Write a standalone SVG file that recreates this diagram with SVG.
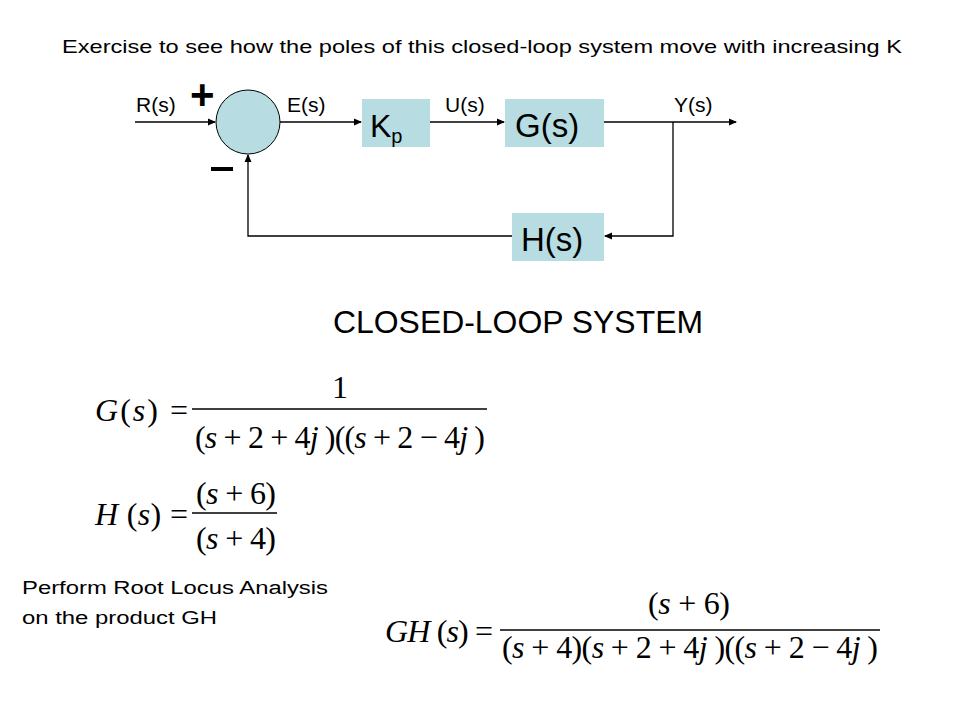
<svg xmlns="http://www.w3.org/2000/svg" width="960" height="720" viewBox="0 0 960 720">
<style>
.s{font-family:"Liberation Sans",Arial,sans-serif;fill:#000}
.m{font-family:"Liberation Serif","Times New Roman",serif;fill:#000;font-size:32px}
.i{font-style:italic}
.b{fill:#b7dde3}
.l{stroke:#000;stroke-width:1.3;fill:none}
</style>
<defs><marker id="a" markerWidth="8" markerHeight="8" refX="7" refY="4" orient="auto" markerUnits="userSpaceOnUse"><path d="M0,0.5 L8,4 L0,7.5z" fill="#000"/></marker></defs>
<rect width="960" height="720" fill="#fff"/>
<text class="s" x="62" y="53" font-size="19" textLength="840" lengthAdjust="spacingAndGlyphs">Exercise to see how the poles of this closed-loop system move with increasing K</text>
<g id="sum"><circle cx="248" cy="122" r="32" class="b" stroke="#000" stroke-width="1"/></g>
<g id="kp"><rect x="362" y="99" width="68" height="48" class="b"/><text class="s" x="370" y="137" font-size="32">K<tspan font-size="20" dy="6">p</tspan></text></g>
<g id="g"><rect x="505" y="99" width="99" height="48" class="b"/><text class="s" x="515" y="137" font-size="33">G(s)</text></g>
<g id="h"><rect x="512" y="213" width="92" height="48" class="b"/><text class="s" x="521" y="251" font-size="33">H(s)</text></g>
<g id="connectors">
<line class="l" x1="135" y1="122" x2="215" y2="122" marker-end="url(#a)"/>
<line class="l" x1="280" y1="122" x2="361" y2="122" marker-end="url(#a)"/>
<line class="l" x1="430" y1="122" x2="504" y2="122" marker-end="url(#a)"/>
<line class="l" x1="604" y1="122" x2="736" y2="122" marker-end="url(#a)"/>
<polyline class="l" points="673,122 673,236 605,236" marker-end="url(#a)"/>
<polyline class="l" points="512,236 248,236 248,155" marker-end="url(#a)"/>
</g>
<g id="labels" class="s" font-size="21">
<text x="136" y="112">R(s)</text><text x="287" y="112">E(s)</text><text x="445" y="112">U(s)</text><text x="674" y="112">Y(s)</text>
</g>
<text class="s" x="190" y="109" font-size="42" font-weight="bold">+</text>
<rect x="211" y="167" width="22" height="4" fill="#000"/>
<text class="s" x="333" y="333" font-size="31" textLength="370" lengthAdjust="spacingAndGlyphs">CLOSED-LOOP SYSTEM</text>
<g id="eqG">
<text class="m" x="95" y="421" textLength="93" lengthAdjust="spacing"><tspan class="i">G</tspan>(<tspan class="i">s</tspan>) =</text>
<text class="m" x="340" y="398" text-anchor="middle" font-size="38">1</text>
<line x1="192" y1="409" x2="487" y2="409" stroke="#000" stroke-width="1.5"/>
<text class="m" x="195" y="448" textLength="290" lengthAdjust="spacing">(<tspan class="i">s</tspan> + 2 + 4<tspan class="i">j</tspan> )((<tspan class="i">s</tspan> + 2 − 4<tspan class="i">j</tspan> )</text>
</g>
<g id="eqH">
<text class="m" x="95" y="525" textLength="93" lengthAdjust="spacing"><tspan class="i">H</tspan> (<tspan class="i">s</tspan>) =</text>
<text class="m" x="196" y="504" textLength="80" lengthAdjust="spacing">(<tspan class="i">s</tspan> + 6)</text>
<line x1="192" y1="513" x2="277" y2="513" stroke="#000" stroke-width="1.5"/>
<text class="m" x="196" y="549" textLength="80" lengthAdjust="spacing">(<tspan class="i">s</tspan> + 4)</text>
</g>
<text class="s" x="22" y="594" font-size="18" textLength="306" lengthAdjust="spacingAndGlyphs">Perform Root Locus Analysis</text>
<text class="s" x="22" y="624" font-size="18" textLength="195" lengthAdjust="spacingAndGlyphs">on the product GH</text>
<g id="eqGH">
<text class="m" x="385" y="642" textLength="108" lengthAdjust="spacing"><tspan class="i">GH</tspan> (<tspan class="i">s</tspan>) =</text>
<text class="m" x="648" y="614" textLength="82" lengthAdjust="spacing">(<tspan class="i">s</tspan> + 6)</text>
<line x1="500" y1="630" x2="880" y2="630" stroke="#000" stroke-width="1.5"/>
<text class="m" x="502" y="658" textLength="376" lengthAdjust="spacing">(<tspan class="i">s</tspan> + 4)(<tspan class="i">s</tspan> + 2 + 4<tspan class="i">j</tspan> )((<tspan class="i">s</tspan> + 2 − 4<tspan class="i">j</tspan> )</text>
</g>
</svg>
